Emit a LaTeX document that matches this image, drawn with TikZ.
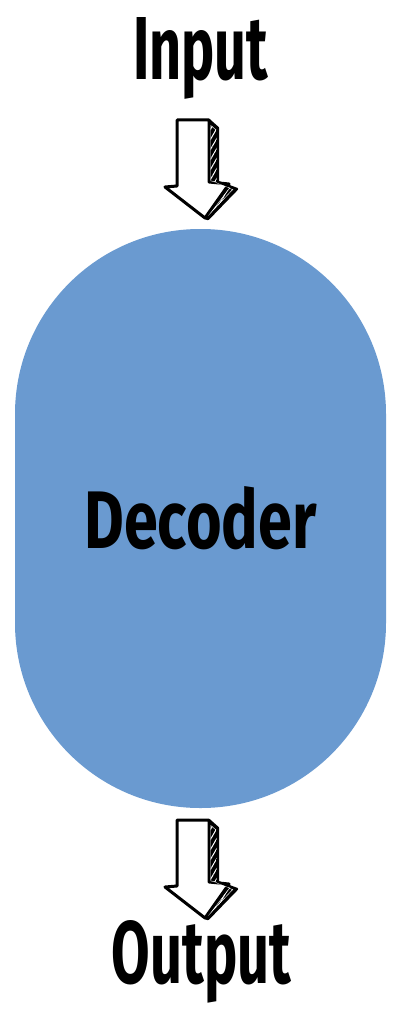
\documentclass[tikz,border=0pt]{standalone}
\usepackage{fontspec}
\setmainfont{Fira Sans}
\usepackage{graphicx}
\usetikzlibrary{patterns.meta}
\definecolor{decblue}{RGB}{106,154,208}
\tikzset{
  handtext/.style={inner sep=0pt, anchor=base, font=\bfseries},
  blockarrow/.pic={
    \draw[line width=3pt, line join=round, fill=white]
      (0,0) -- (32,0) -- (32,62) -- (52,64) -- (28,98) -- (-12,67) -- (0,66) -- cycle;
    \fill[black]
      (32,0) -- (41,8) -- (41,62) -- (60,69) -- (31,99) -- (28,98) -- (52,64) -- (32,62) -- cycle;
    \begin{scope}
      \clip (33.5,5) -- (39.5,10) -- (39.5,63) -- (56,69.5) -- (31,96) -- (54,66) -- (33.5,61) -- cycle;
      \draw[white, line width=0.9pt, pattern={Lines[angle=60,distance=5pt,line width=1pt]}, pattern color=white]
        (33.5,5) -- (39.5,10) -- (39.5,63) -- (56,69.5) -- (31,96) -- (54,66) -- (33.5,61) -- cycle;
    \end{scope}
    \draw[line width=2.4pt, line join=round]
      (32,0) -- (41,8) -- (41,62) -- (60,69) -- (31,99) -- (28,98);
  }
}
\begin{document}
\begin{tikzpicture}[x=1pt,y=-1pt]
  \fill[white] (0,0) rectangle (404,1014);
  \useasboundingbox (0,0) rectangle (404,1014);
  \node[handtext] (in) at (200.5,80) {\resizebox{135pt}{62pt}{Input}};
  \node[fill=decblue, rounded corners=185pt, minimum width=371pt, minimum height=579pt,
        inner sep=0pt] (dec) at (200.5,518.5) {\resizebox{232pt}{62pt}{\bfseries Decoder}};
  \node[handtext] (out) at (201.5,983) {\resizebox{179pt}{63pt}{Output}};
  \pic at (177,120) {blockarrow};
  \pic at (177,820) {blockarrow};
\end{tikzpicture}
\end{document}
